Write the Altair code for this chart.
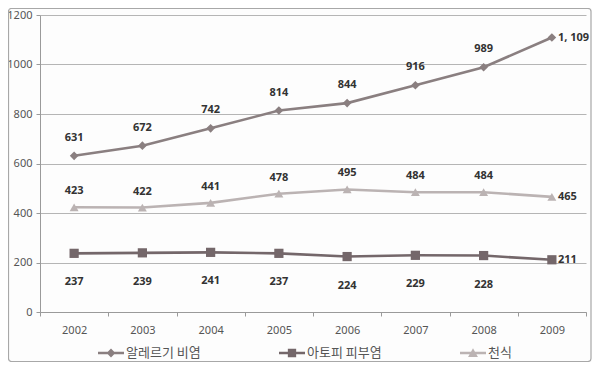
import altair as alt
import pandas as pd

years = ["2002", "2003", "2004", "2005", "2006", "2007", "2008", "2009"]
series_names = ["알레르기 비염", "아토피 피부염", "천식"]
allergy = [631, 672, 742, 814, 844, 916, 989, 1109]
atopy = [237, 239, 241, 237, 224, 229, 228, 211]
asthma = [423, 422, 441, 478, 495, 484, 484, 465]
allergy_labels = ["631", "672", "742", "814", "844", "916", "989", "1, 109"]
atopy_labels = ["237", "239", "241", "237", "224", "229", "228", "211"]
asthma_labels = ["423", "422", "441", "478", "495", "484", "484", "465"]

colors = ["#8a7f80", "#74676a", "#bbb3b3"]
shapes = ["diamond", "square", "triangle-up"]
marker_sizes = [75, 85, 80]
label_dy = [-18, 29, -16]
legend_paths = [
    "M-1,-0.1H1V0.1H-1Z M0,-0.34L0.34,0L0,0.34L-0.34,0Z",
    "M-1,-0.1H1V0.1H-1Z M-0.32,-0.32H0.32V0.32H-0.32Z",
    "M-1,-0.1H1V0.1H-1Z M0,-0.36L0.38,0.3H-0.38Z",
]

rows = []
for name, vals, labs in zip(series_names, [allergy, atopy, asthma],
                            [allergy_labels, atopy_labels, asthma_labels]):
    for i, (y, v, l) in enumerate(zip(years, vals, labs)):
        rows.append({"year": y, "series": name, "value": v, "label": l,
                     "last": i == len(years) - 1})
df = pd.DataFrame(rows)

FONT = "Noto Sans"
KFONT = "Noto Sans CJK KR"

x_enc = alt.X(
    "year:N",
    bandPosition=0.5,
    scale=alt.Scale(type="band", paddingInner=0, paddingOuter=0, domain=years),
    axis=alt.Axis(title=None, labelAngle=0, grid=False, tickBand="extent",
                  labelColor="#555555", labelFontSize=11, labelFont=FONT,
                  domainColor="#9a9a9a", tickColor="#9a9a9a", tickSize=4,
                  labelPadding=8),
)
y_enc = alt.Y(
    "value:Q",
    scale=alt.Scale(domain=[0, 1200], nice=False),
    axis=alt.Axis(title=None, values=[0, 200, 400, 600, 800, 1000, 1200], format="d",
                  labelColor="#555555", labelFontSize=11, labelFont=FONT,
                  domainColor="#9a9a9a", tickColor="#9a9a9a", tickSize=4,
                  gridColor="#b5b5b5", labelPadding=4),
)
color_scale = alt.Scale(domain=series_names, range=colors)
legend_def = alt.Legend(title=None, orient="none", direction="horizontal",
                        legendX=58, legendY=325, symbolSize=676,
                        symbolStrokeWidth=0, labelFont=KFONT,
                        labelFontSize=13, labelColor="#555555",
                        columnPadding=78, labelOffset=2)
color_enc = alt.Color("series:N", scale=color_scale, legend=legend_def)

base = alt.Chart(df)

layers = []

# outer frame
frame = alt.Chart(alt.Data(values=[{"a": 1}])).mark_rect(
    filled=False, stroke="#a8a8a8", strokeWidth=1.2, cornerRadius=3
).encode(x=alt.value(-31.5), x2=alt.value(551), y=alt.value(-6.5), y2=alt.value(346.5))
layers.append(frame)

lines = base.mark_line(strokeWidth=2.6).encode(
    x=x_enc, y=y_enc, color=color_enc, detail="series:N",
)
layers.append(lines)

for name, shp, sz in zip(series_names, shapes, marker_sizes):
    pts = base.transform_filter(f"datum.series == '{name}'").mark_point(
        filled=True, opacity=1, shape=shp, size=sz
    ).encode(x=x_enc, y=y_enc, color=color_enc)
    layers.append(pts)

for name, dy in zip(series_names, label_dy):
    mid = base.transform_filter(f"datum.series == '{name}' && !datum.last").mark_text(
        dy=dy, fontWeight="bold", fontSize=11, font=FONT, color="#333333",
        baseline="middle", align="center"
    ).encode(x=x_enc, y=y_enc, text="label:N")
    last = base.transform_filter(f"datum.series == '{name}' && datum.last").mark_text(
        dx=6, fontWeight="bold", fontSize=11, font=FONT, color="#333333",
        baseline="middle", align="left"
    ).encode(x=x_enc, y=y_enc, text="label:N")
    layers += [mid, last]

legend_layer = base.transform_filter("false").mark_point(filled=True, opacity=1).encode(
    x=x_enc, y=y_enc,
    color=color_enc,
    shape=alt.Shape("series:N", scale=alt.Scale(domain=series_names, range=legend_paths),
                    legend=legend_def),
)
layers.append(legend_layer)

chart = alt.layer(*layers).properties(
    width=546, height=297,
    padding={"left": 32, "top": 7, "right": 6, "bottom": 50},
    autosize=alt.AutoSizeParams(type="none"),
    background="#fdfdfd",
).configure_view(stroke=None)

chart.save("out.html", embed_options={"renderer": "svg", "actions": False})
